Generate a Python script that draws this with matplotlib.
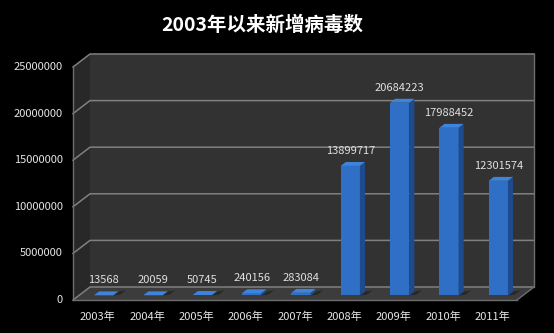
import matplotlib.pyplot as plt
from matplotlib.patches import Polygon
from matplotlib.transforms import IdentityTransform

plt.rcParams['font.family'] = ['Noto Sans CJK SC', 'DejaVu Sans']

years = ['2003年', '2004年', '2005年', '2006年', '2007年',
         '2008年', '2009年', '2010年', '2011年']
counts = [13568, 20059, 50745, 240156, 283084,
          13899717, 20684223, 17988452, 12301574]
yticks = [0, 5000000, 10000000, 15000000, 20000000, 25000000]

W, H = 554, 333
fig = plt.figure(figsize=(W / 100, H / 100), dpi=100, facecolor='black')
ax = fig.add_axes([73 / W, 33 / H, 444 / W, 233 / H])
ax.set_xlim(-0.5, len(years) - 0.5)
ax.set_ylim(0, 25000000)
ax.axis('off')

# depth of the 3d box in pixels (back wall is up and to the right)
DX, DY = 17, 13


def P(x, y, d=0.0):
    px, py = ax.transData.transform((x, y))
    return (px + d * DX, py + d * DY)


def face(pts, color, z=1, ec='none', lw=0):
    poly = Polygon(pts, closed=True, facecolor=color, edgecolor=ec, lw=lw,
                   transform=IdentityTransform(), clip_on=False, zorder=z)
    ax.add_patch(poly)


x0, x1 = -0.5, len(years) - 0.5
ymax = yticks[-1]

# walls and floor
face([P(x0, 0, 1), P(x1, 0, 1), P(x1, ymax, 1), P(x0, ymax, 1)], '#323232', 0)
face([P(x0, 0, 0), P(x0, 0, 1), P(x0, ymax, 1), P(x0, ymax, 0)], '#282828', 0)
face([P(x0, 0, 0), P(x1, 0, 0), P(x1, 0, 1), P(x0, 0, 1)], '#3c3c3c', 0.5)

# gridlines on back wall and side wall
for t in yticks:
    pts = [P(x0, t, 0), P(x0, t, 1), P(x1, t, 1)]
    ax.plot([p[0] for p in pts], [p[1] for p in pts], color='#808080', lw=1.1,
            transform=IdentityTransform(), clip_on=False, zorder=0.6)
# box edges
for a, b in [((x1, 0, 1), (x1, ymax, 1)), ((x0, 0, 0), (x1, 0, 0)),
             ((x1, 0, 0), (x1, 0, 1)), ((x0, 0, 0), (x0, ymax, 0))]:
    pa, pb = P(*a), P(*b)
    ax.plot([pa[0], pb[0]], [pa[1], pb[1]], color='#6e6e6e', lw=1,
            transform=IdentityTransform(), clip_on=False, zorder=0.7)

# 3d columns
bw = 0.39
d0, d1 = 0.35, 0.65
for i, v in enumerate(counts):
    l, r = i - bw / 2, i + bw / 2
    # shadow on the floor
    face([P(r, 0, d0), P(r + 0.12, 0, d0 + 0.05), P(r + 0.12, 0, d1 + 0.1),
          P(r, 0, d1)], '#282828', 0.8)
    face([P(l, 0, d0), P(r, 0, d0), P(r, v, d0), P(l, v, d0)], '#2f6fc6', 2)
    face([P(r, 0, d0), P(r, 0, d1), P(r, v, d1), P(r, v, d0)], '#1e4b8e', 2)
    face([P(l, v, d0), P(r, v, d0), P(r, v, d1), P(l, v, d1)], '#3f84db', 2)
    tx, ty = P(i, v, d0)
    ax.text(tx, ty + 15, str(v), transform=IdentityTransform(), ha='center',
            va='center', color='#e0e0e0', fontsize=8, zorder=3)

# axis labels
for t in yticks:
    px, py = P(x0, t, 0)
    ax.text(px - 10, py, str(t), transform=IdentityTransform(), ha='right',
            va='center', color='#e6e6e6', fontsize=8)
for i, yr in enumerate(years):
    px, py = P(i, 0, 0)
    ax.text(px, py - 17, yr, transform=IdentityTransform(), ha='center',
            va='center', color='#e6e6e6', fontsize=8)

fig.text(0.473, 0.925, '2003年以来新增病毒数', ha='center', va='center',
         color='white', fontsize=14, fontweight='bold')

fig.savefig('out.png', dpi=100, facecolor='black')
